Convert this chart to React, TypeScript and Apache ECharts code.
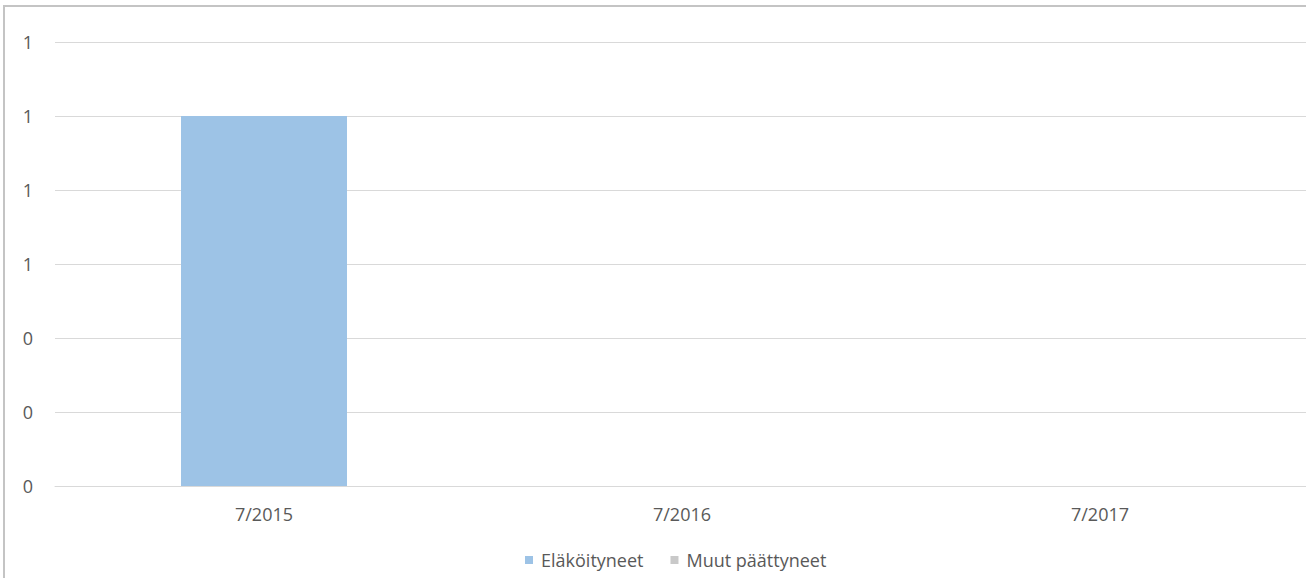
import React, { useEffect, useRef } from "react";
import * as echarts from "echarts";

const categories = ["7/2015", "7/2016", "7/2017"];
const retired = [1, 0, 0];
const otherEnded = [0, 0, 0];
const seriesNames = ["Eläköityneet", "Muut päättyneet"];

export default function App() {
  const ref = useRef<HTMLDivElement>(null);
  useEffect(() => {
    if (!ref.current) return;
    const chart = echarts.init(ref.current, undefined, { renderer: "svg" });
    const font = "'Open Sans', 'Noto Sans', sans-serif";
    chart.setOption({
      animation: false,
      backgroundColor: "#ffffff",
      grid: {
        left: 55,
        right: -3,
        top: 42,
        bottom: 92,
        containLabel: false,
        outerBoundsMode: "none",
      },
      legend: {
        data: seriesNames,
        left: 520,
        top: 545,
        itemWidth: 8,
        itemHeight: 8,
        itemGap: 27,
        icon: "rect",
        textStyle: {
          color: "#595959",
          fontSize: 18,
          fontFamily: font,
          padding: [0, 0, 0, 3],
          lineHeight: 20,
        },
      },
      xAxis: {
        type: "category",
        data: categories,
        axisLine: { show: true, lineStyle: { color: "#D9D9D9", width: 1 } },
        axisTick: { show: false },
        axisLabel: {
          color: "#595959",
          fontSize: 18,
          fontFamily: font,
          margin: 19,
        },
        splitLine: { show: false },
      },
      yAxis: {
        type: "value",
        min: 0,
        max: 1.2,
        interval: 0.2,
        axisLine: { show: false },
        axisTick: { show: false },
        axisLabel: {
          color: "#595959",
          fontSize: 18,
          fontFamily: font,
          margin: 22,
          formatter: (v: number) => String(Math.round(v)),
        },
        splitLine: { show: true, lineStyle: { color: "#D9D9D9", width: 1 } },
      },
      series: [
        {
          name: seriesNames[0],
          type: "bar",
          stack: "total",
          data: retired,
          barWidth: 166,
          itemStyle: { color: "#9DC3E6" },
        },
        {
          name: seriesNames[1],
          type: "bar",
          stack: "total",
          data: otherEnded,
          barWidth: 166,
          itemStyle: { color: "#C9C9C9" },
        },
      ],
    });
    return () => chart.dispose();
  }, []);

  return (
    <div
      style={{
        position: "fixed",
        left: 0,
        top: 0,
        width: 1306,
        height: 578,
        overflow: "hidden",
        background: "#fff",
      }}
    >
      <div ref={ref} style={{ position: "absolute", left: 0, top: 0, width: 1306, height: 578 }} />
      <div
        style={{
          position: "absolute",
          left: 3,
          top: 5,
          width: 1400,
          height: 700,
          borderLeft: "2px solid #C4C4C4",
          borderTop: "2px solid #C4C4C4",
          pointerEvents: "none",
        }}
      />
    </div>
  );
}
